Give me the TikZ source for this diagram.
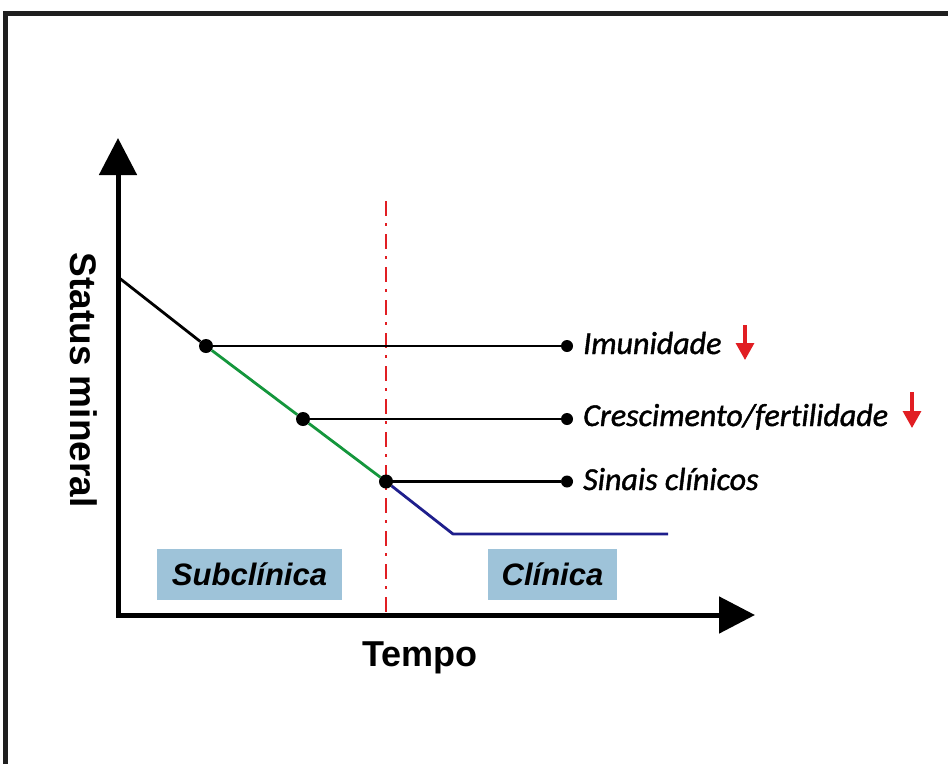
\documentclass[tikz,border=0pt]{standalone}
\usepackage{fontspec}
\setmainfont{Liberation Sans}
\newfontfamily\effectfont[Ligatures=NoCommon,FakeBold=1.3]{Carlito}
\usetikzlibrary{arrows.meta}
\definecolor{boxblue}{RGB}{158,195,217}
\definecolor{curvegreen}{RGB}{20,150,60}
\definecolor{curvenavy}{RGB}{30,30,140}
\definecolor{markred}{RGB}{225,30,35}
\begin{document}
\begin{tikzpicture}[x=1pt,y=-1pt,
  dot/.style={circle,fill=black,inner sep=0pt,minimum size=14pt},
  enddot/.style={circle,fill=black,inner sep=0pt,minimum size=12pt},
  effect/.style={font=\effectfont\itshape\fontsize{32}{36}\selectfont,anchor=base west,inner sep=0pt},
  phase/.style={fill=boxblue,minimum height=51pt,inner sep=0pt,
    font=\bfseries\itshape\fontsize{31}{36}\selectfont},
  link/.style={line width=2.8pt},
  drop/.style={markred,line width=3.2pt,-{Triangle[width=18pt,length=17pt]}},
  axis/.style={line width=5pt,line join=miter,
    {Triangle[width=37pt,length=37pt]}-{Triangle[width=36pt,length=36pt]}}
]
\useasboundingbox (0,0) rectangle (948,764);

% frame
\draw[line width=5pt,black!88,line join=miter] (5.5,764) -- (5.5,13) -- (948,13);

% axes
\coordinate (ytip) at (118,138);
\coordinate (origin) at (118,615);
\coordinate (xtip) at (755,615);
\draw[axis] (ytip) -- (origin) -- (xtip);

% boundary between phases
\coordinate (vtop) at (386,201);
\coordinate (vbot) at (386,613);
\draw[markred,line width=2.8pt,dash pattern=on 15pt off 7pt on 3pt off 8pt] (vtop) -- (vbot);

% points on the mineral status curve
\coordinate (start) at (118,277);
\node[dot] (d1) at (206,346) {};
\node[dot] (d2) at (303,419) {};
\node[dot] (d3) at (386,481.5) {};
\coordinate (knee) at (453,534);
\coordinate (floor) at (668,534);

% curve segments
\draw[link] (start) -- (d1);
\draw[link,curvegreen] (d1) -- (d2) -- (d3);
\draw[link,curvenavy,line join=round] (d3) -- (knee) -- (floor);

% thresholds
\node[enddot] (e1) at (567,346) {};
\node[enddot] (e2) at (567,419) {};
\node[enddot] (e3) at (567,481.5) {};
\draw[link] (d1) -- (e1);
\draw[link] (d2) -- (e2);
\draw[link] (d3) -- (e3);

% effects
\node[effect] (imun) at (583,354) {Imunidade};
\node[effect] (cresc) at (583,426) {Crescimento/fertilidade};
\node[effect] (sinais) at (583,490) {Sinais clínicos};

\coordinate (a1top) at (745,325);
\coordinate (a1tip) at (745,360);
\coordinate (a2top) at (912,392);
\coordinate (a2tip) at (912,428);
\draw[drop] (a1top) -- (a1tip);
\draw[drop] (a2top) -- (a2tip);

% phases
\node[phase,minimum width=185pt] (sub) at (249.5,574.5) {Subclínica};
\node[phase,minimum width=129pt] (clin) at (552.5,574.5) {Clínica};

% axis labels
\node[font=\bfseries\fontsize{36}{40}\selectfont,anchor=base] (tempo) at (420,666) {Tempo};
\node[font=\bfseries\fontsize{37}{40}\selectfont,rotate=-90] (status) at (84,380) {Status mineral};
\end{tikzpicture}
\end{document}
